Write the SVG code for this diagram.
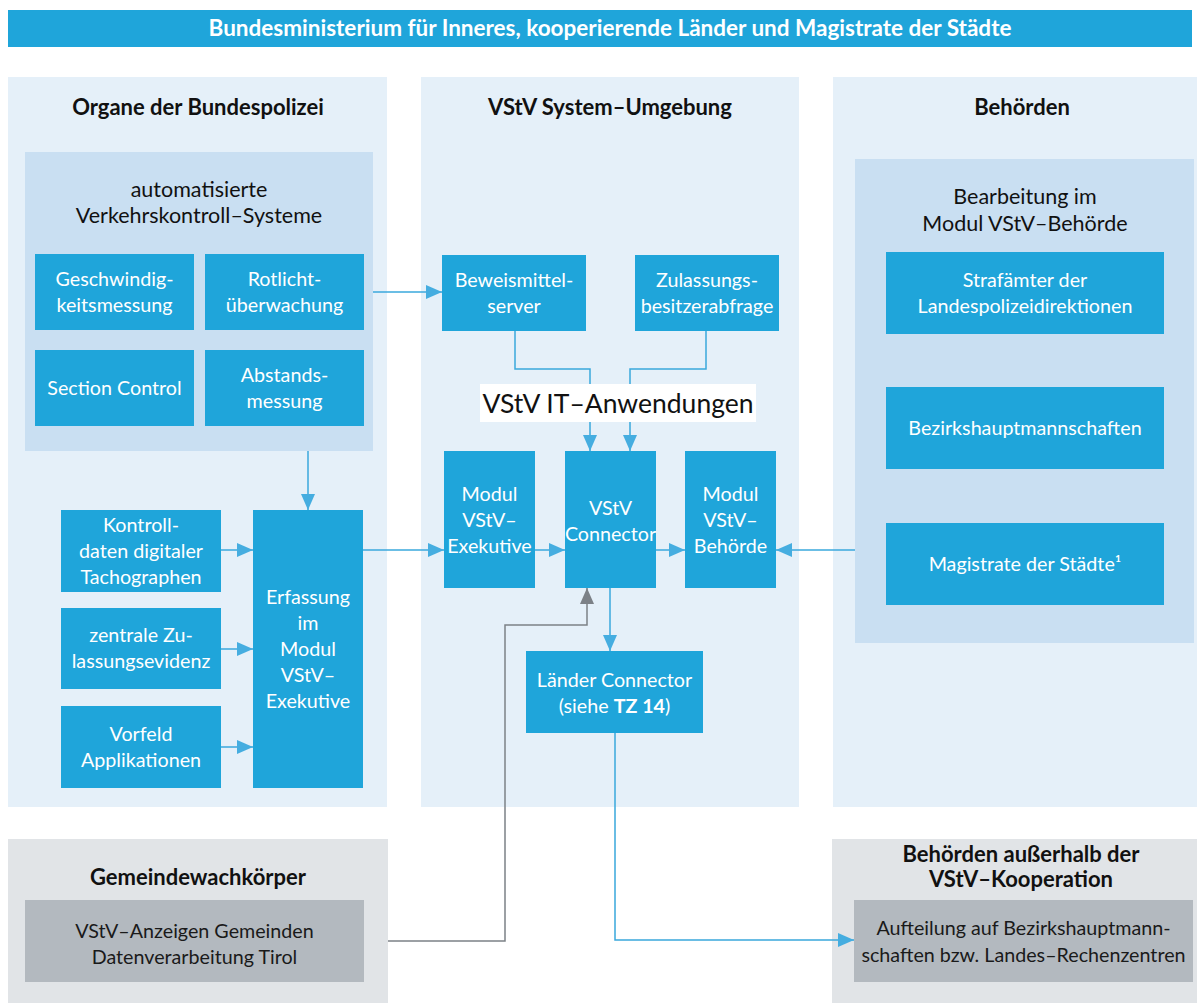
<svg xmlns="http://www.w3.org/2000/svg" width="1200" height="1003" viewBox="0 0 1200 1003">
<defs>
<style>
text{font-family:Lato,"Open Sans","Noto Sans",sans-serif;text-anchor:middle}
.node{fill:#1fa5da}
.nt{fill:#ffffff;font-size:19.7px}
.panel{fill:#e5f0f9}
.inner{fill:#c9dff2}
.gpanel{fill:#e1e4e7}
.gbox{fill:#b3b9bf}
.title{fill:#111;font-size:22px;font-weight:bold}
.dark{fill:#1a1a1a;font-size:19.7px}
.sub{fill:#111;font-size:21.5px}
.con{fill:none;stroke:#3aa8dc;stroke-width:1.5}
.gcon{fill:none;stroke:#7c8187;stroke-width:1.5}
</style>
<marker id="ab" markerUnits="userSpaceOnUse" markerWidth="16" markerHeight="14" refX="16" refY="7" orient="auto">
<path d="M0,0 L16,7 L0,14 z" fill="#45ade0"/>
</marker>
<marker id="ag" markerUnits="userSpaceOnUse" markerWidth="16" markerHeight="14" refX="16" refY="7" orient="auto">
<path d="M0,0 L16,7 L0,14 z" fill="#7c8187"/>
</marker>
</defs>

<g id="banner">
<rect x="8" y="10" width="1184" height="37" class="node"/>
<text x="610" y="36" fill="#fff" font-size="22.5" font-weight="bold">Bundesministerium für Inneres, kooperierende Länder und Magistrate der Städte</text>
</g>

<g id="panel-organe">
<rect x="8" y="77" width="379" height="730" class="panel"/>
<text x="198" y="115" class="title">Organe der Bundespolizei</text>
</g>
<g id="panel-system">
<rect x="421" y="77" width="378" height="730" class="panel"/>
<text x="610" y="115" class="title">VStV System–Umgebung</text>
</g>
<g id="panel-behoerden">
<rect x="833" y="77" width="364" height="730" class="panel"/>
<text x="1022" y="115" class="title">Behörden</text>
</g>

<g id="automatisierte">
<rect x="25" y="152" width="348" height="299" class="inner"/>
<text x="199" y="197" class="sub">automatisierte</text>
<text x="199" y="223" class="sub">Verkehrskontroll–Systeme</text>
</g>
<g id="geschwindigkeit">
<rect x="35" y="254" width="159" height="76" class="node"/>
<text x="114.5" y="286" class="nt">Geschwindig-</text>
<text x="114.5" y="312" class="nt">keitsmessung</text>
</g>
<g id="rotlicht">
<rect x="205" y="254" width="159" height="76" class="node"/>
<text x="284.5" y="286" class="nt">Rotlicht-</text>
<text x="284.5" y="312" class="nt">überwachung</text>
</g>
<g id="section">
<rect x="35" y="350" width="159" height="76" class="node"/>
<text x="114.5" y="395" class="nt">Section Control</text>
</g>
<g id="abstand">
<rect x="205" y="350" width="159" height="76" class="node"/>
<text x="284.5" y="382" class="nt">Abstands-</text>
<text x="284.5" y="408" class="nt">messung</text>
</g>
<g id="kontroll">
<rect x="61" y="510" width="160" height="82" class="node"/>
<text x="141" y="532" class="nt">Kontroll-</text>
<text x="141" y="558" class="nt">daten digitaler</text>
<text x="141" y="584" class="nt">Tachographen</text>
</g>
<g id="zentrale">
<rect x="61" y="608" width="160" height="81" class="node"/>
<text x="141" y="642" class="nt">zentrale Zu-</text>
<text x="141" y="668" class="nt">lassungsevidenz</text>
</g>
<g id="vorfeld">
<rect x="61" y="706" width="160" height="82" class="node"/>
<text x="141" y="741" class="nt">Vorfeld</text>
<text x="141" y="767" class="nt">Applikationen</text>
</g>
<g id="erfassung">
<rect x="253" y="510" width="110" height="278" class="node"/>
<text x="308" y="604" class="nt">Erfassung</text>
<text x="308" y="630" class="nt">im</text>
<text x="308" y="656" class="nt">Modul</text>
<text x="308" y="682" class="nt">VStV–</text>
<text x="308" y="708" class="nt">Exekutive</text>
</g>

<g id="beweis">
<rect x="442" y="255" width="144" height="76" class="node"/>
<text x="514" y="287" class="nt">Beweismittel-</text>
<text x="514" y="313" class="nt">server</text>
</g>
<g id="zulassung">
<rect x="635" y="255" width="144" height="76" class="node"/>
<text x="707" y="287" class="nt">Zulassungs-</text>
<text x="707" y="313" class="nt">besitzerabfrage</text>
</g>
<g id="modul-exekutive">
<rect x="444" y="451" width="91" height="137" class="node"/>
<text x="489.5" y="501" class="nt">Modul</text>
<text x="489.5" y="527" class="nt">VStV–</text>
<text x="489.5" y="553" class="nt">Exekutive</text>
</g>
<g id="connector">
<rect x="565" y="451" width="91" height="137" class="node"/>
<text x="610.5" y="515" class="nt">VStV</text>
<text x="610.5" y="541" class="nt">Connector</text>
</g>
<g id="modul-behoerde">
<rect x="685" y="451" width="91" height="137" class="node"/>
<text x="730.5" y="501" class="nt">Modul</text>
<text x="730.5" y="527" class="nt">VStV–</text>
<text x="730.5" y="553" class="nt">Behörde</text>
</g>
<g id="laender">
<rect x="526" y="651" width="177" height="82" class="node"/>
<text x="614.5" y="687" class="nt">Länder Connector</text>
<text x="614.5" y="713" class="nt">(siehe <tspan font-weight="bold">TZ 14</tspan>)</text>
</g>

<g id="bearbeitung">
<rect x="855" y="159" width="339" height="484" class="inner"/>
<text x="1025" y="204" class="sub">Bearbeitung im</text>
<text x="1025" y="231" class="sub">Modul VStV–Behörde</text>
</g>
<g id="strafaemter">
<rect x="886" y="252" width="278" height="82" class="node"/>
<text x="1025" y="287" class="nt">Strafämter der</text>
<text x="1025" y="313" class="nt">Landespolizeidirektionen</text>
</g>
<g id="bezirk">
<rect x="886" y="387" width="278" height="82" class="node"/>
<text x="1025" y="435" class="nt">Bezirkshauptmannschaften</text>
</g>
<g id="magistrate">
<rect x="886" y="523" width="278" height="82" class="node"/>
<text x="1025" y="571" class="nt">Magistrate der Städte¹</text>
</g>

<g id="gemeinde">
<rect x="8" y="839" width="380" height="164" class="gpanel"/>
<text x="198" y="885" class="title">Gemeindewachkörper</text>
<rect x="25" y="900" width="339" height="82" class="gbox"/>
<text x="194.5" y="938" class="dark">VStV–Anzeigen Gemeinden</text>
<text x="194.5" y="964" class="dark">Datenverarbeitung Tirol</text>
</g>
<g id="ausserhalb">
<rect x="832" y="839" width="365" height="164" class="gpanel"/>
<text x="1021" y="862" class="title">Behörden außerhalb der</text>
<text x="1021" y="887" class="title">VStV–Kooperation</text>
<rect x="854" y="900" width="339" height="82" class="gbox"/>
<text x="1023.5" y="935" class="dark">Aufteilung auf Bezirkshauptmann-</text>
<text x="1023.5" y="962" class="dark">schaften bzw. Landes–Rechenzentren</text>
</g>

<g id="connectors">
<path class="con" d="M373,292 H442" marker-end="url(#ab)"/>
<path class="con" d="M308,451 V510" marker-end="url(#ab)"/>
<path class="con" d="M221,550 H253" marker-end="url(#ab)"/>
<path class="con" d="M221,649 H253" marker-end="url(#ab)"/>
<path class="con" d="M221,747 H253" marker-end="url(#ab)"/>
<path class="con" d="M363,550 H444" marker-end="url(#ab)"/>
<path class="con" d="M535,550 H565" marker-end="url(#ab)"/>
<path class="con" d="M656,550 H685" marker-end="url(#ab)"/>
<path class="con" d="M855,550 H776" marker-end="url(#ab)"/>
<path class="con" d="M515,331 V369 H590 V451" marker-end="url(#ab)"/>
<path class="con" d="M706,331 V369 H630 V451" marker-end="url(#ab)"/>
<path class="con" d="M610,588 V651" marker-end="url(#ab)"/>
<path class="con" d="M615,733 V940 H854" marker-end="url(#ab)"/>
<path class="gcon" d="M388,941 H505 V625 H587 V588" marker-end="url(#ag)"/>
</g>

<g id="it-label">
<rect x="480" y="384" width="276" height="38" fill="#ffffff"/>
<text x="618" y="413" fill="#111" font-size="26.5">VStV IT–Anwendungen</text>
</g>
</svg>
